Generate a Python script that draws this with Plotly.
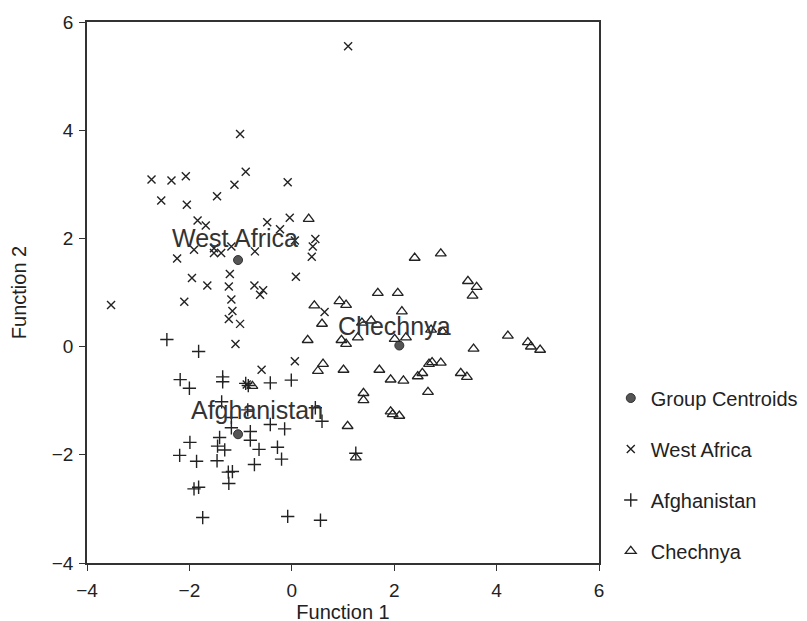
import plotly.graph_objects as go

# ---- data ----
wa_x = [-2.74, -2.55, -2.35, -2.07, -2.05, -1.46, -1.12, -1.01, -0.90, -0.08,
        -1.84, -1.68, -0.48, -0.04, -0.23, 0.06, 0.46, 0.41, 0.39, -1.91,
        -1.52, -1.52, -1.38, -1.18, -0.72, -2.24, -1.21, -1.95, -1.65, -1.23,
        -0.73, -0.56, -0.62, 0.08, -1.18, -1.16, -1.23, -1.01, -2.10, -3.53,
        -1.10, 0.64, 0.06, -0.59, -0.88, 1.10]
wa_y = [3.09, 2.70, 3.07, 3.15, 2.62, 2.78, 2.99, 3.93, 3.23, 3.04,
        2.33, 2.24, 2.30, 2.38, 2.17, 1.96, 1.99, 1.85, 1.66, 1.79,
        1.82, 1.73, 1.73, 1.85, 1.76, 1.63, 1.34, 1.27, 1.13, 1.11,
        1.13, 1.04, 0.96, 1.29, 0.87, 0.66, 0.51, 0.42, 0.83, 0.77,
        0.05, 0.64, -0.27, -0.43, -0.70, 5.55]

af_x = [-2.44, -1.82, -0.01, 0.46, 0.59, 1.25, -2.18, -2.00, -1.35, -1.35,
        -0.90, -0.85, -0.42, -1.37, -1.18, -0.42, -0.14, -1.18, -0.81, -0.81,
        -1.41, -1.99, -1.45, -1.31, -0.64, -0.28, -0.20, -2.19, -1.86, -1.46,
        -0.73, -1.24, -1.16, -1.23, -1.91, -1.82, -1.74, -0.08, 0.56, -0.86]
af_y = [0.13, -0.09, -0.62, -1.13, -1.38, -1.97, -0.61, -0.77, -0.56, -0.65,
        -0.68, -0.72, -0.67, -1.02, -1.31, -1.44, -1.52, -1.50, -1.57, -1.73,
        -1.68, -1.77, -1.84, -1.91, -1.90, -1.86, -2.08, -2.01, -2.12, -2.11,
        -2.18, -2.32, -2.31, -2.53, -2.63, -2.60, -3.16, -3.14, -3.21, -1.17]

ch_x = [0.33, 0.44, 0.59, 0.31, 2.40, 2.91, 3.44, 3.61, 3.53, 1.68,
        2.07, 0.93, 1.06, 2.15, 1.37, 1.55, 2.72, 2.95, 0.97, 1.06,
        1.29, 2.01, 2.23, 3.55, 4.22, 4.61, 4.67, 4.85, 0.61, 0.51,
        1.01, 1.71, 1.93, 2.18, 2.46, 2.55, 2.68, 2.74, 2.91, 3.30,
        3.42, 2.66, 1.40, 1.40, 1.93, 1.97, 2.10, 1.09, 1.25, -0.77]
ch_y = [2.36, 0.76, 0.42, 0.12, 1.64, 1.72, 1.21, 1.10, 0.94, 0.99,
        0.99, 0.84, 0.77, 0.65, 0.44, 0.48, 0.31, 0.27, 0.12, 0.05,
        0.17, 0.14, 0.17, -0.04, 0.20, 0.08, 0.00, -0.06, -0.32, -0.45,
        -0.43, -0.43, -0.61, -0.63, -0.55, -0.49, -0.32, -0.29, -0.30, -0.49,
        -0.56, -0.84, -0.86, -0.99, -1.20, -1.25, -1.28, -1.47, -2.05, -0.73]

centroid_names = ["West Africa", "Afghanistan", "Chechnya"]
centroid_x = [-1.05, -1.05, 2.10]
centroid_y = [1.60, -1.62, 0.02]
label_x = [-1.10, -0.68, 2.00]
label_y = [2.01, -1.18, 0.39]

x_ticks = [-4, -2, 0, 2, 4, 6]
y_ticks = [-4, -2, 0, 2, 4, 6]
tick_text = ["\u22124", "\u22122", "0", "2", "4", "6"]

FONT = "Liberation Sans, Arial, sans-serif"
INK = "#222222"

fig = go.Figure()
fig.add_trace(go.Scatter(
    x=centroid_x, y=centroid_y, mode="markers", name="Group Centroids",
    legendgroup="g1",
    marker=dict(symbol="circle", size=9, color="#555555",
                line=dict(color="#333333", width=1))))
fig.add_trace(go.Scatter(
    x=wa_x, y=wa_y, mode="markers", name="West Africa", legendgroup="g2",
    marker=dict(symbol="x-thin-open", size=8, color=INK,
                line=dict(color=INK, width=1.4))))
fig.add_trace(go.Scatter(
    x=af_x, y=af_y, mode="markers", name="Afghanistan", legendgroup="g3",
    marker=dict(symbol="cross-thin-open", size=9.5, color=INK,
                line=dict(color=INK, width=1.4))))
fig.add_trace(go.Scatter(
    x=ch_x, y=ch_y, mode="markers", name="Chechnya", legendgroup="g4",
    marker=dict(symbol="triangle-up-open", size=9.5, color=INK,
                line=dict(color=INK, width=1.3))))

for name, lx, ly in zip(centroid_names, label_x, label_y):
    fig.add_annotation(x=lx, y=ly, text=name, showarrow=False,
                       font=dict(family=FONT, size=25, color="#333333"),
                       xanchor="center", yanchor="middle")

axis_common = dict(showgrid=False, zeroline=False, showline=True,
                   linecolor="#333333", linewidth=1.5, mirror=True,
                   ticks="outside", ticklen=6, tickwidth=1.3,
                   tickcolor="#333333", automargin=False,
                   tickfont=dict(family=FONT, size=19, color=INK))

fig.update_xaxes(range=[-4, 6], tickvals=x_ticks, ticktext=tick_text,
                 ticklabelstandoff=3,
                 title=dict(text="Function 1", standoff=1,
                            font=dict(family=FONT, size=20, color=INK)),
                 **axis_common)
fig.update_yaxes(range=[-4, 6], tickvals=y_ticks, ticktext=tick_text,
                 ticklabelstandoff=2,
                 title=dict(text="Function 2", standoff=22,
                            font=dict(family=FONT, size=20, color=INK)),
                 **axis_common)

fig.update_layout(
    width=807, height=621,
    margin=dict(l=79, r=211, t=14, b=66),
    paper_bgcolor="white", plot_bgcolor="white",
    font=dict(family=FONT, color=INK),
    legend=dict(x=1.023, xanchor="left", y=0.341, yanchor="top",
                tracegroupgap=22, bgcolor="rgba(0,0,0,0)",
                font=dict(family=FONT, size=20, color=INK)),
)

fig.write_html("out.html")
